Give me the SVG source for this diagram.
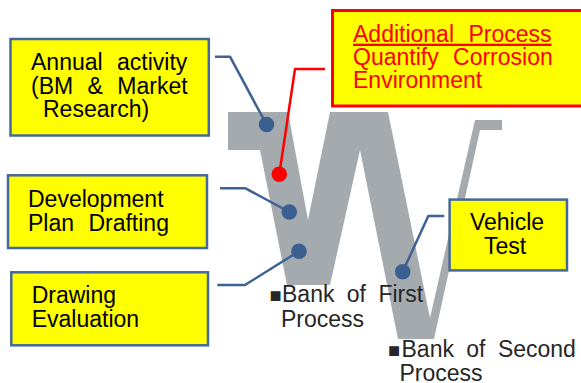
<svg xmlns="http://www.w3.org/2000/svg" width="581" height="383" viewBox="0 0 581 383">
<style>
text{font-family:"Liberation Sans",Arial,sans-serif;font-size:23px;word-spacing:8px}
.box{fill:#ffff00;stroke:#44689a;stroke-width:2.5}
.rbox{fill:#ffff00;stroke:#ff0000;stroke-width:3}
.blk{fill:#000}
.red{fill:#ff0000}
.lbl{fill:#262626;word-spacing:6px}
.sq{font-size:20px}
.con{fill:none;stroke:#3d6293;stroke-width:2.5;stroke-linejoin:round}
.rcon{fill:none;stroke:#ff0000;stroke-width:2.5;stroke-linejoin:round}
.dot{fill:#3b6090}
.rdot{fill:#ff0000}
</style>
<g id="w-shape">
<polygon fill="#a5aaae" points="228,112 288,112 308,220 330,112 388,112 430,318 475,120 502,120 502,130 480,130 434,339 398,339 360,150 330,285 287,285 260,150 228,150"/>
</g>
<g id="labels">
<text class="lbl" x="269.5" y="301.7"><tspan class="sq">■</tspan><tspan x="282">Bank of First</tspan><tspan x="281" y="326.7">Process</tspan></text>
<text class="lbl" x="388" y="356.7"><tspan class="sq">■</tspan><tspan x="401.5">Bank of Second</tspan><tspan x="399.5" y="380.5">Process</tspan></text>
</g>
<g id="connectors">
<polyline class="con" points="215,56.7 230,56.7 266.5,124.5"/>
<polyline class="rcon" points="325,69 295,69 279.3,174.3"/>
<polyline class="con" points="220,188.3 245.5,188.3 289.3,212"/>
<polyline class="con" points="217.3,285 245,285 299,251.2"/>
<polyline class="con" points="444.3,216 428.3,216 402.7,271.7"/>
<circle class="dot" cx="266.5" cy="124.5" r="7.8"/>
<circle class="rdot" cx="279.3" cy="174.3" r="7.8"/>
<circle class="dot" cx="289.3" cy="212" r="7.8"/>
<circle class="dot" cx="299" cy="251.2" r="7.8"/>
<circle class="dot" cx="402.7" cy="271.7" r="7.8"/>
</g>
<g id="annual-activity">
<rect class="box" x="10.5" y="39" width="198.3" height="96.5"/>
<text class="blk" x="31" y="70">Annual activity<tspan x="31" y="94">(BM &amp; Market</tspan><tspan x="43" y="117">Research)</tspan></text>
</g>
<g id="development-plan">
<rect class="box" x="8" y="175.3" width="199" height="72.7"/>
<text class="blk" x="28" y="206.7">Development<tspan x="28" y="230.7">Plan Drafting</tspan></text>
</g>
<g id="drawing-evaluation">
<rect class="box" x="11.3" y="272.3" width="196.7" height="73"/>
<text class="blk" x="31.7" y="303.3">Drawing<tspan x="31.7" y="327.3">Evaluation</tspan></text>
</g>
<g id="additional-process">
<rect class="rbox" x="332.5" y="10.5" width="260" height="95.5"/>
<text class="red" x="353" y="41.7" text-decoration="underline">Additional Process</text>
<text class="red" x="353" y="65">Quantify Corrosion<tspan x="353" y="88.3">Environment</tspan></text>
</g>
<g id="vehicle-test">
<rect class="box" x="449.6" y="199.6" width="117.4" height="70.8"/>
<text class="blk" x="507" y="230" text-anchor="middle">Vehicle<tspan x="505" y="254">Test</tspan></text>
</g>
</svg>
